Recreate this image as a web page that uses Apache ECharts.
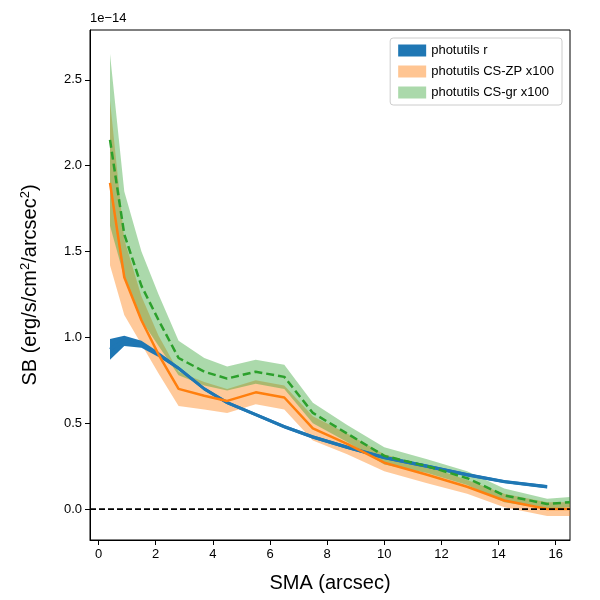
<!DOCTYPE html>
<html><head><meta charset="utf-8">
<script src="https://cdn.jsdelivr.net/npm/echarts@6/dist/echarts.min.js"></script>
<style>body{margin:0}#c{width:600px;height:600px}</style></head>
<body><div id="c"></div>
<script>
// SMA in arcsec, SB in units of 1e-14
const sma = [0.4, 0.9, 1.5, 2.1, 2.8, 3.7, 4.5, 5.5, 6.5, 7.5, 8.7, 10, 11.5, 12.9, 14.2, 15.7, 16.5];
const blue = [0.93, 0.98, 0.96, 0.9, 0.82, 0.7, 0.62, 0.55, 0.48, 0.42, 0.36, 0.3, 0.25, 0.2, 0.16, 0.13, null];
const blueErr = [0.06, 0.03, 0.02, 0.015, 0.01, 0.01, 0.01, 0.01, 0.01, 0.01, 0.01, 0.01, 0.01, 0.01, 0.01, 0.01, null];
const orange = [1.9, 1.35, 1.1, 0.9, 0.7, 0.66, 0.63, 0.68, 0.65, 0.47, 0.38, 0.27, 0.2, 0.13, 0.05, 0.0, 0.0];
const orangeErr = [0.48, 0.22, 0.14, 0.11, 0.1, 0.08, 0.07, 0.07, 0.07, 0.07, 0.06, 0.05, 0.05, 0.04, 0.04, 0.04, 0.04];
const green = [2.15, 1.6, 1.3, 1.1, 0.88, 0.8, 0.76, 0.8, 0.77, 0.56, 0.44, 0.31, 0.25, 0.18, 0.08, 0.03, 0.04];
const greenErr = [0.5, 0.25, 0.2, 0.15, 0.1, 0.08, 0.07, 0.07, 0.07, 0.06, 0.05, 0.05, 0.04, 0.04, 0.04, 0.03, 0.03];
const xTicks = [0, 2, 4, 6, 8, 10, 12, 14, 16];
const yTicks = [0, 0.5, 1.0, 1.5, 2.0, 2.5];

function pairs(v) { return sma.map((x, i) => [x, v[i]]).filter(p => p[1] != null); }
function band(name, v, e, color) {
  const n = v.filter(x => x != null).length;
  return {
    name: name, type: 'custom', z: 1,
    data: [[0]],
    renderItem: function (params, api) {
      const up = [], lo = [];
      for (let i = 0; i < n; i++) {
        up.push(api.coord([sma[i], v[i] + e[i]]));
        lo.unshift(api.coord([sma[i], v[i] - e[i]]));
      }
      return { type: 'polygon', shape: { points: up.concat(lo) }, style: { fill: color } };
    },
    itemStyle: { color: color }
  };
}
const chart = echarts.init(document.getElementById('c'));
chart.setOption({
  animation: false,
  grid: { left: 90, right: 30, top: 30, bottom: 60, show: true, borderColor: '#000', borderWidth: 1 },
  legend: {
    right: 38, top: 38, orient: 'vertical', itemWidth: 28, itemHeight: 12, itemGap: 8,
    borderColor: '#ccc', borderWidth: 1, borderRadius: 3, padding: [6, 8],
    textStyle: { fontSize: 13, color: '#000' },
    data: [
      { name: 'photutils r', icon: 'rect', itemStyle: { color: '#1f77b4' } },
      { name: 'photutils CS-ZP x100', icon: 'rect', itemStyle: { color: 'rgba(255,127,14,0.45)', borderColor: 'rgba(255,127,14,0.6)' } },
      { name: 'photutils CS-gr x100', icon: 'rect', itemStyle: { color: 'rgba(44,160,44,0.4)', borderColor: 'rgba(44,160,44,0.6)' } }
    ]
  },
  xAxis: {
    type: 'value', min: -0.3, max: 16.5,
    axisLabel: { color: '#000', fontSize: 13, customValues: xTicks },
    axisLine: { onZero: false, lineStyle: { color: '#000' } },
    axisTick: { show: true, customValues: xTicks, lineStyle: { color: '#000' } },
    splitLine: { show: false },
    name: 'SMA (arcsec)', nameLocation: 'middle', nameGap: 33,
    nameTextStyle: { fontSize: 20, color: '#000' }
  },
  yAxis: {
    type: 'value', min: -0.18, max: 2.79,
    axisLabel: { color: '#000', fontSize: 13, customValues: yTicks, formatter: v => v.toFixed(1) },
    axisLine: { show: true, onZero: false, lineStyle: { color: '#000' } },
    axisTick: { show: true, customValues: yTicks, lineStyle: { color: '#000' } },
    splitLine: { show: false },
    name: '{a|SB (erg/s/cm}{s|2}{a|/arcsec}{s|2}{a|)}', nameLocation: 'middle', nameGap: 48, nameRotate: 90,
    nameTextStyle: { rich: { a: { fontSize: 20, color: '#000' }, s: { fontSize: 13, color: '#000', verticalAlign: 'top', padding: [0, 0, 10, 0] } } }
  },
  graphic: [{ type: 'text', left: 90, top: 12, style: { text: '1e\u221214', fontSize: 13, fill: '#000' } }],
  series: [
    band('photutils CS-ZP x100', orange, orangeErr, 'rgba(255,127,14,0.42)'),
    band('photutils CS-gr x100', green, greenErr, 'rgba(44,160,44,0.4)'),
    band('photutils r', blue, blueErr, '#1f77b4'),
    { type: 'line', data: pairs(blue), symbol: 'none', lineStyle: { color: '#1f77b4', width: 3 }, z: 3 },
    { type: 'line', data: pairs(orange), symbol: 'none', lineStyle: { color: '#ff7f0e', width: 2.5 }, z: 3 },
    { type: 'line', data: pairs(green), symbol: 'none', lineStyle: { color: '#2ca02c', width: 2.5, type: [8, 4] }, z: 3 },
    { type: 'line', data: [[-0.3, 0], [16.5, 0]], symbol: 'none', lineStyle: { color: '#000', width: 1.6, type: [6, 3] }, z: 4 }
  ]
});
</script></body></html>
